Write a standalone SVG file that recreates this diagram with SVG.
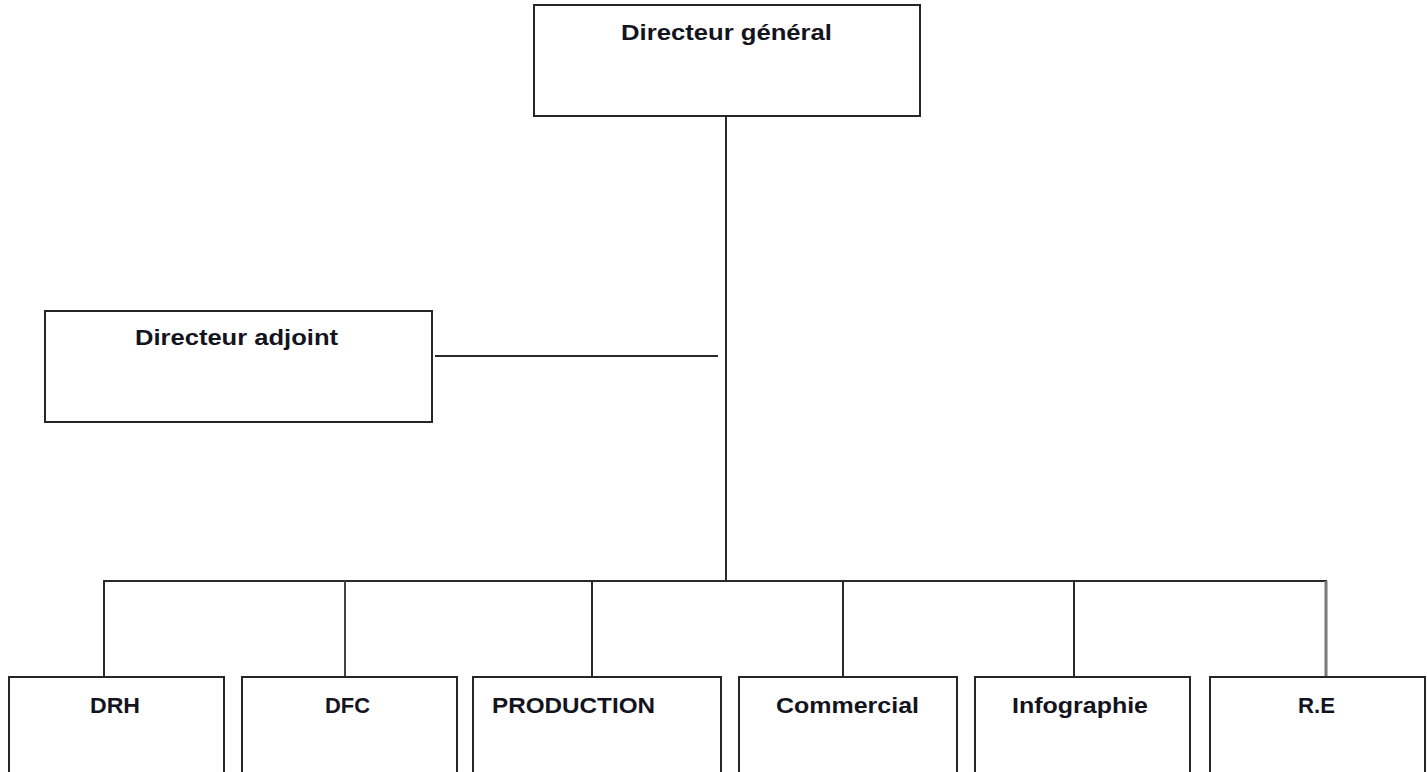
<svg xmlns="http://www.w3.org/2000/svg" width="1428" height="772" viewBox="0 0 1428 772">
<style>
.box{fill:#fff;stroke:#262626;stroke-width:2}
.lbl{font-family:"Liberation Sans",Arial,sans-serif;font-weight:bold;font-size:22px;fill:#14141e}
.ln{stroke:#2a2a2a;stroke-width:2;fill:none}
</style>
<rect width="1428" height="772" fill="#fff"/>
<g id="connectors">
<line class="ln" x1="726" y1="116" x2="726" y2="582"/>
<line class="ln" x1="435" y1="356" x2="718" y2="356"/>
<line class="ln" x1="103" y1="581" x2="1327" y2="581"/>
<line class="ln" x1="104" y1="581" x2="104" y2="677"/>
<line class="ln" x1="345" y1="581" x2="345" y2="677" style="stroke:#444"/>
<line class="ln" x1="592" y1="581" x2="592" y2="677"/>
<line class="ln" x1="843" y1="581" x2="843" y2="677"/>
<line class="ln" x1="1074" y1="581" x2="1074" y2="677"/>
<line class="ln" x1="1326" y1="581" x2="1326" y2="677" style="stroke:#777;stroke-width:3"/>
</g>
<g id="dg">
<rect class="box" x="534" y="5" width="386" height="111"/>
<text class="lbl" x="726.5" y="40" text-anchor="middle" textLength="211" lengthAdjust="spacingAndGlyphs">Directeur général</text>
</g>
<g id="da">
<rect class="box" x="45" y="311" width="387" height="111"/>
<text class="lbl" x="236.5" y="345" text-anchor="middle" textLength="203" lengthAdjust="spacingAndGlyphs">Directeur adjoint</text>
</g>
<g id="drh">
<rect class="box" x="9" y="677" width="215" height="130"/>
<text class="lbl" x="115" y="713" text-anchor="middle" textLength="50" lengthAdjust="spacingAndGlyphs">DRH</text>
</g>
<g id="dfc">
<rect class="box" x="242" y="677" width="215" height="130"/>
<text class="lbl" x="347.5" y="713" text-anchor="middle" textLength="45" lengthAdjust="spacingAndGlyphs">DFC</text>
</g>
<g id="production">
<rect class="box" x="473" y="677" width="248" height="130"/>
<text class="lbl" x="492" y="713" textLength="163" lengthAdjust="spacingAndGlyphs">PRODUCTION</text>
</g>
<g id="commercial">
<rect class="box" x="739" y="677" width="218" height="130"/>
<text class="lbl" x="847.5" y="713" text-anchor="middle" textLength="143" lengthAdjust="spacingAndGlyphs">Commercial</text>
</g>
<g id="infographie">
<rect class="box" x="975" y="677" width="215" height="130"/>
<text class="lbl" x="1080" y="713" text-anchor="middle" textLength="136" lengthAdjust="spacingAndGlyphs">Infographie</text>
</g>
<g id="re">
<rect class="box" x="1210" y="677" width="215" height="130"/>
<text class="lbl" x="1316.5" y="713" text-anchor="middle" textLength="37" lengthAdjust="spacingAndGlyphs">R.E</text>
</g>
</svg>
